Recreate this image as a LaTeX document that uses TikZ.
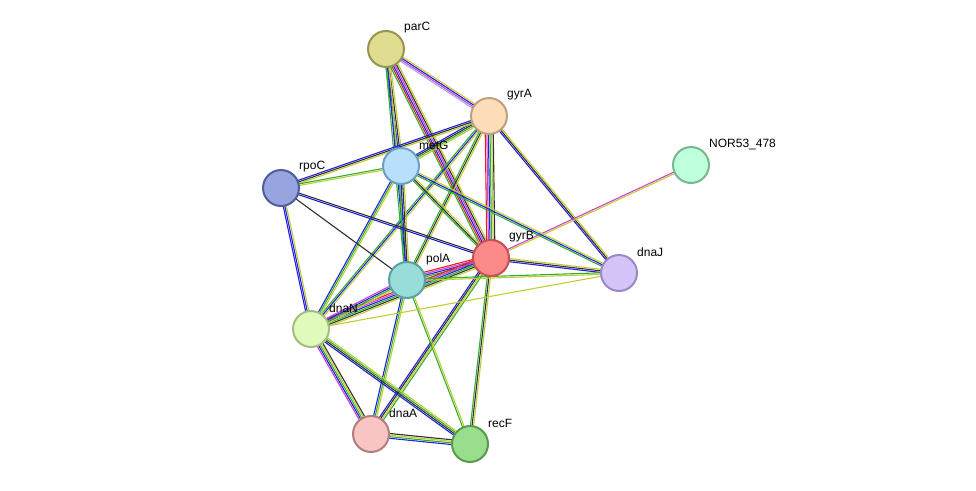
\documentclass[tikz,border=0pt]{standalone}
\usepackage{fontspec}
\setmainfont{Liberation Sans}
\usetikzlibrary{calc}
\definecolor{cY}{HTML}{C2CC30}
\definecolor{cG}{HTML}{30B030}
\definecolor{cB}{HTML}{2020E0}
\definecolor{cK}{HTML}{303030}
\definecolor{cM}{HTML}{D040D0}
\definecolor{cR}{HTML}{E02020}
\definecolor{cL}{HTML}{A0A8F0}
\tikzset{
 prot/.style={circle,minimum size=36pt,inner sep=0pt,line width=2pt},
 lab/.style={anchor=west,font=\fontsize{12}{14}\selectfont,text=black,inner sep=0pt},
 ln/.style={line width=1.1pt}
}
\newcommand{\edg}[4]{% a b n colors
 \foreach \c [count=\i] in {#4}{
  \pgfmathsetmacro{\o}{(\i-1-(#3-1)/2)*1.6}
  \draw[ln,\c] ($(#1)!\o pt!90:(#2)$) -- ($(#2)!\o pt!-90:(#1)$);
 }}
\begin{document}
\begin{tikzpicture}[x=1pt,y=-1pt]
\useasboundingbox (0,0) rectangle (976,490);
\coordinate (parC) at (386,49);
\coordinate (gyrA) at (489,116);
\coordinate (NOR) at (691,165);
\coordinate (metG) at (401,166);
\coordinate (rpoC) at (281,188);
\coordinate (gyrB) at (491,258);
\coordinate (dnaJ) at (619,273);
\coordinate (polA) at (407,280);
\coordinate (dnaN) at (311,329);
\coordinate (dnaA) at (371,434);
\coordinate (recF) at (470,444);
\edg{parC}{gyrA}{4}{cL,cM,cB,cY}
\edg{parC}{metG}{4}{cG,cB,cK,cY}
\edg{parC}{gyrB}{6}{cG,cR,cB,cM,cK,cY}
\edg{parC}{polA}{3}{cG,cB,cY}
\edg{gyrA}{gyrB}{6}{cR,cM,cB,cG,cY,cK}
\edg{gyrA}{metG}{4}{cB,cK,cG,cY}
\edg{gyrA}{rpoC}{3}{cB,cK,cY}
\edg{gyrA}{dnaJ}{3}{cB,cK,cY}
\edg{gyrA}{polA}{3}{cG,cK,cY}
\edg{gyrA}{dnaN}{3}{cG,cB,cY}
\edg{NOR}{gyrB}{2}{cM,cY}
\edg{metG}{rpoC}{2}{cG,cY}
\edg{metG}{gyrB}{3}{cG,cK,cY}
\edg{metG}{polA}{4}{cG,cB,cK,cY}
\edg{metG}{dnaN}{3}{cB,cG,cY}
\edg{metG}{dnaJ}{3}{cG,cB,cY}
\edg{rpoC}{gyrB}{2}{cB,cK}
\edg{rpoC}{polA}{1}{cK}
\edg{rpoC}{dnaN}{3}{cB,cB,cY}
\edg{gyrB}{dnaJ}{3}{cB,cK,cY}
\edg{gyrB}{polA}{5}{cR,cM,cB,cG,cY}
\edg{gyrB}{dnaN}{6}{cR,cM,cB,cG,cK,cY}
\edg{gyrB}{dnaA}{4}{cB,cK,cY,cG}
\edg{gyrB}{recF}{3}{cG,cK,cY}
\edg{polA}{dnaJ}{2}{cY,cG}
\edg{polA}{dnaN}{4}{cM,cB,cG,cY}
\edg{polA}{dnaA}{3}{cB,cG,cY}
\edg{polA}{recF}{2}{cG,cY}
\edg{dnaN}{dnaA}{5}{cM,cB,cG,cY,cK}
\edg{dnaN}{recF}{4}{cB,cK,cG,cY}
\edg{dnaA}{recF}{4}{cB,cG,cY,cK}
\edg{dnaN}{dnaJ}{1}{cY}
\node[prot,fill={rgb,255:red,224;green,220;blue,144},draw={rgb,255:red,150;green,150;blue,80}] (nparC) at (parC) {};
\node[prot,fill={rgb,255:red,253;green,220;blue,184},draw={rgb,255:red,192;green,160;blue,128}] (ngyrA) at (gyrA) {};
\node[prot,fill={rgb,255:red,190;green,255;blue,220},draw={rgb,255:red,120;green,184;blue,144}] (nNOR) at (NOR) {};
\node[prot,fill={rgb,255:red,184;green,224;blue,250},draw={rgb,255:red,106;green,160;blue,200}] (nmetG) at (metG) {};
\node[prot,fill={rgb,255:red,152;green,164;blue,224},draw={rgb,255:red,80;green,94;blue,160}] (nrpoC) at (rpoC) {};
\node[prot,fill={rgb,255:red,251;green,138;blue,138},draw={rgb,255:red,200;green,80;blue,80}] (ngyrB) at (gyrB) {};
\node[prot,fill={rgb,255:red,212;green,196;blue,250},draw={rgb,255:red,154;green,136;blue,200}] (ndnaJ) at (dnaJ) {};
\node[prot,fill={rgb,255:red,152;green,221;blue,216},draw={rgb,255:red,90;green,160;blue,160}] (npolA) at (polA) {};
\node[prot,fill={rgb,255:red,224;green,250;blue,188},draw={rgb,255:red,160;green,192;blue,128}] (ndnaN) at (dnaN) {};
\node[prot,fill={rgb,255:red,248;green,196;blue,196},draw={rgb,255:red,176;green,128;blue,128}] (ndnaA) at (dnaA) {};
\node[prot,fill={rgb,255:red,152;green,222;blue,140},draw={rgb,255:red,90;green,154;blue,80}] (nrecF) at (recF) {};
\node[lab] (lparC) at (404,28) {parC};
\node[lab] (lgyrA) at (507,95) {gyrA};
\node[lab] (lNOR) at (709,144) {NOR53\_478};
\node[lab] (lmetG) at (419,145) {metG};
\node[lab] (lrpoC) at (299,167) {rpoC};
\node[lab] (lgyrB) at (509,237) {gyrB};
\node[lab] (ldnaJ) at (637,252) {dnaJ};
\node[lab] (lpolA) at (426,259) {polA};
\node[lab] (ldnaN) at (329,308) {dnaN};
\node[lab] (ldnaA) at (389,413) {dnaA};
\node[lab] (lrecF) at (488,423) {recF};
\end{tikzpicture}
\end{document}
